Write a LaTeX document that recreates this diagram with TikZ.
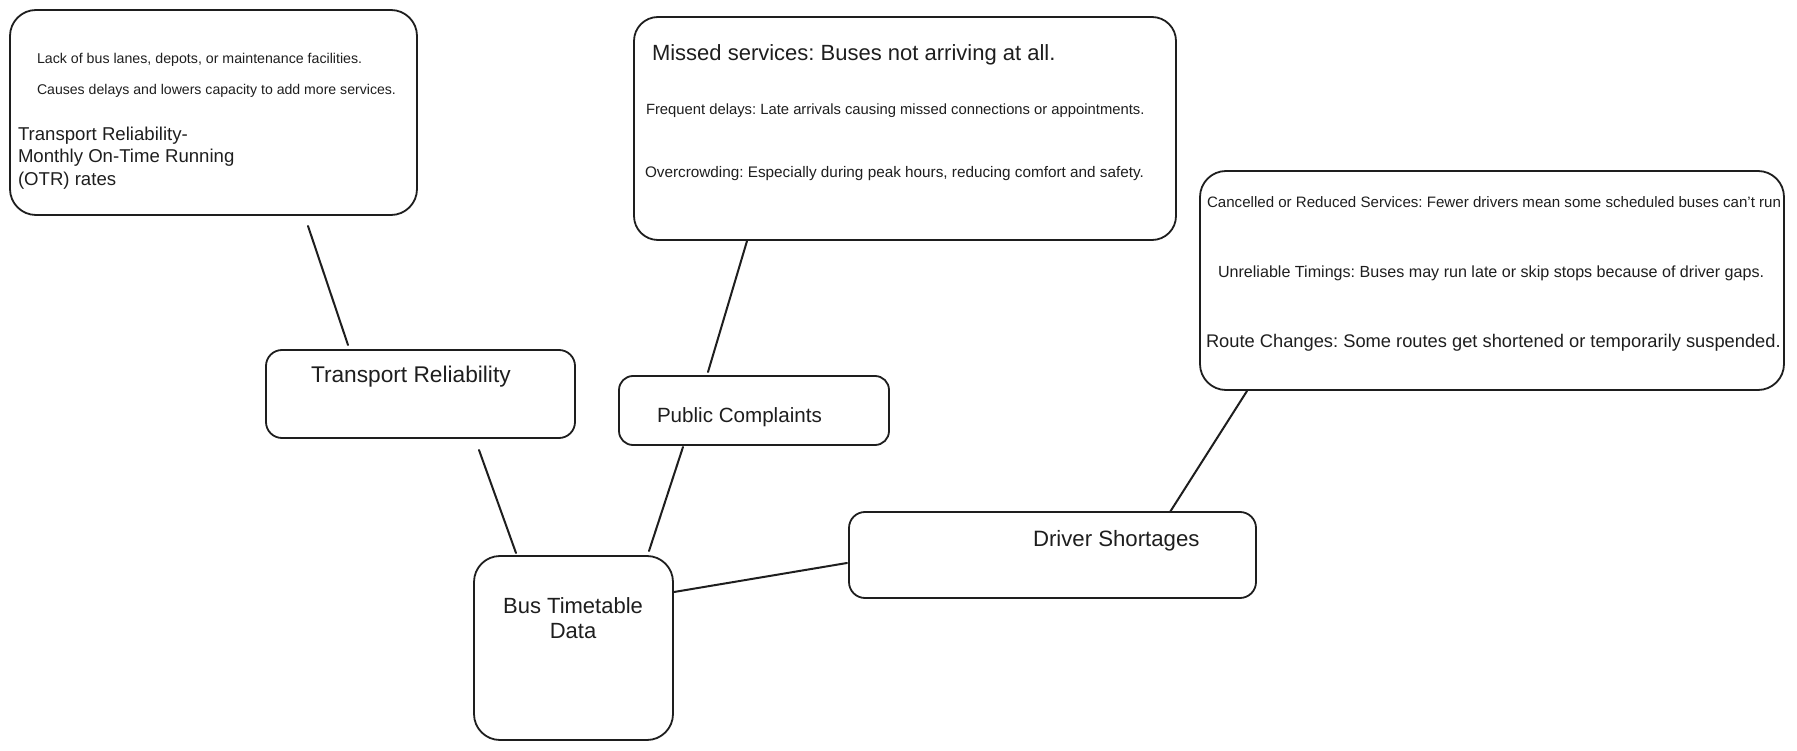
\documentclass[tikz,border=0pt]{standalone}
\usepackage{fontspec}
\setmainfont{Liberation Sans}
\usetikzlibrary{calc}
\frenchspacing
\definecolor{ink}{HTML}{1E1E1E}
\newcommand{\fsz}[1]{\fontsize{#1}{#1}\selectfont}
\tikzset{
  box/.style={draw=ink, line width=1.8pt, rounded corners=#1, inner sep=0pt, outer sep=0pt},
  box/.default=18pt,
  txt/.style={inner sep=0pt, outer sep=0pt, anchor=west, text=ink},
  link/.style={draw=ink, line width=2pt, line cap=round},
}
\begin{document}
\begin{tikzpicture}[x=1pt,y=-1pt]
\useasboundingbox (0,0) rectangle (1797,751);
% boxes
\node[box=26pt, minimum width=407pt, minimum height=205pt] (A) at (213.5,112.5) {};
\node[box=24pt, minimum width=542pt, minimum height=223pt] (B) at (905,128.5) {};
\node[box=26pt, minimum width=584pt, minimum height=219pt] (C) at (1492,280.5) {};
\node[box=16pt, minimum width=309pt, minimum height=88pt] (TR) at (420.5,394) {};
\node[box=14pt, minimum width=270pt, minimum height=69pt] (PC) at (754,410.5) {};
\node[box=26pt, minimum width=199pt, minimum height=184pt] (BT) at (573.5,648) {};
\node[box=16pt, minimum width=407pt, minimum height=86pt] (DS) at (1052.5,555) {};
% texts in box A
\node[txt, font=\fsz{14.2}] (a1) at (37,60) {Lack of bus lanes, depots, or maintenance facilities.};
\node[txt, font=\fsz{14.1}] (a2) at (37,91) {Causes delays and lowers capacity to add more services.};
\node[txt, font=\fontsize{18.6}{22.5}\selectfont, align=left] (a3) at (18,158) {Transport Reliability-\\Monthly On-Time Running\\(OTR) rates};
% texts in box B
\node[txt, font=\fsz{22}] (b1) at (652,55) {Missed services: Buses not arriving at all.};
\node[txt, font=\fsz{14.8}] (b2) at (646,111) {Frequent delays: Late arrivals causing missed connections or appointments.};
\node[txt, font=\fsz{15.3}] (b3) at (645,174) {Overcrowding: Especially during peak hours, reducing comfort and safety.};
% texts in box C
\node[txt, font=\fsz{15.1}] (c1) at (1207,202) {Cancelled or Reduced Services: Fewer drivers mean some scheduled buses can’t run};
\node[txt, font=\fsz{16.1}] (c2) at (1218,273) {Unreliable Timings: Buses may run late or skip stops because of driver gaps.};
\node[txt, font=\fsz{18.3}] (c3) at (1206,343) {Route Changes: Some routes get shortened or temporarily suspended.};
% node labels
\node[txt, font=\fsz{22.7}] (trt) at (311,377) {Transport Reliability};
\node[txt, font=\fsz{20.6}] (pct) at (657,417) {Public Complaints};
\node[inner sep=0pt, text=ink, font=\fontsize{22}{25}\selectfont, align=center] (btt) at (573,618) {Bus Timetable\\Data};
\node[txt, font=\fsz{22.2}] (dst) at (1033,541) {Driver Shortages};
% connectors
\draw[link] ([shift={(298,11)}]A.south west) -- ([shift={(82,-5)}]TR.north west);
\draw[link] ([shift={(113,1)}]B.south west) -- ([shift={(89,-4)}]PC.north west);
\draw[link] ([shift={(47,1)}]C.south west) -- ([shift={(321,0)}]DS.north west);
\draw[link] ([shift={(213,12)}]TR.south west) -- ([shift={(42,-3)}]BT.north west);
\draw[link] ([shift={(64,2)}]PC.south west) -- ([shift={(175,-5)}]BT.north west);
\draw[link] ([shift={(1,36)}]BT.north east) -- ([shift={(-2,8)}]DS.west);
\end{tikzpicture}
\end{document}
